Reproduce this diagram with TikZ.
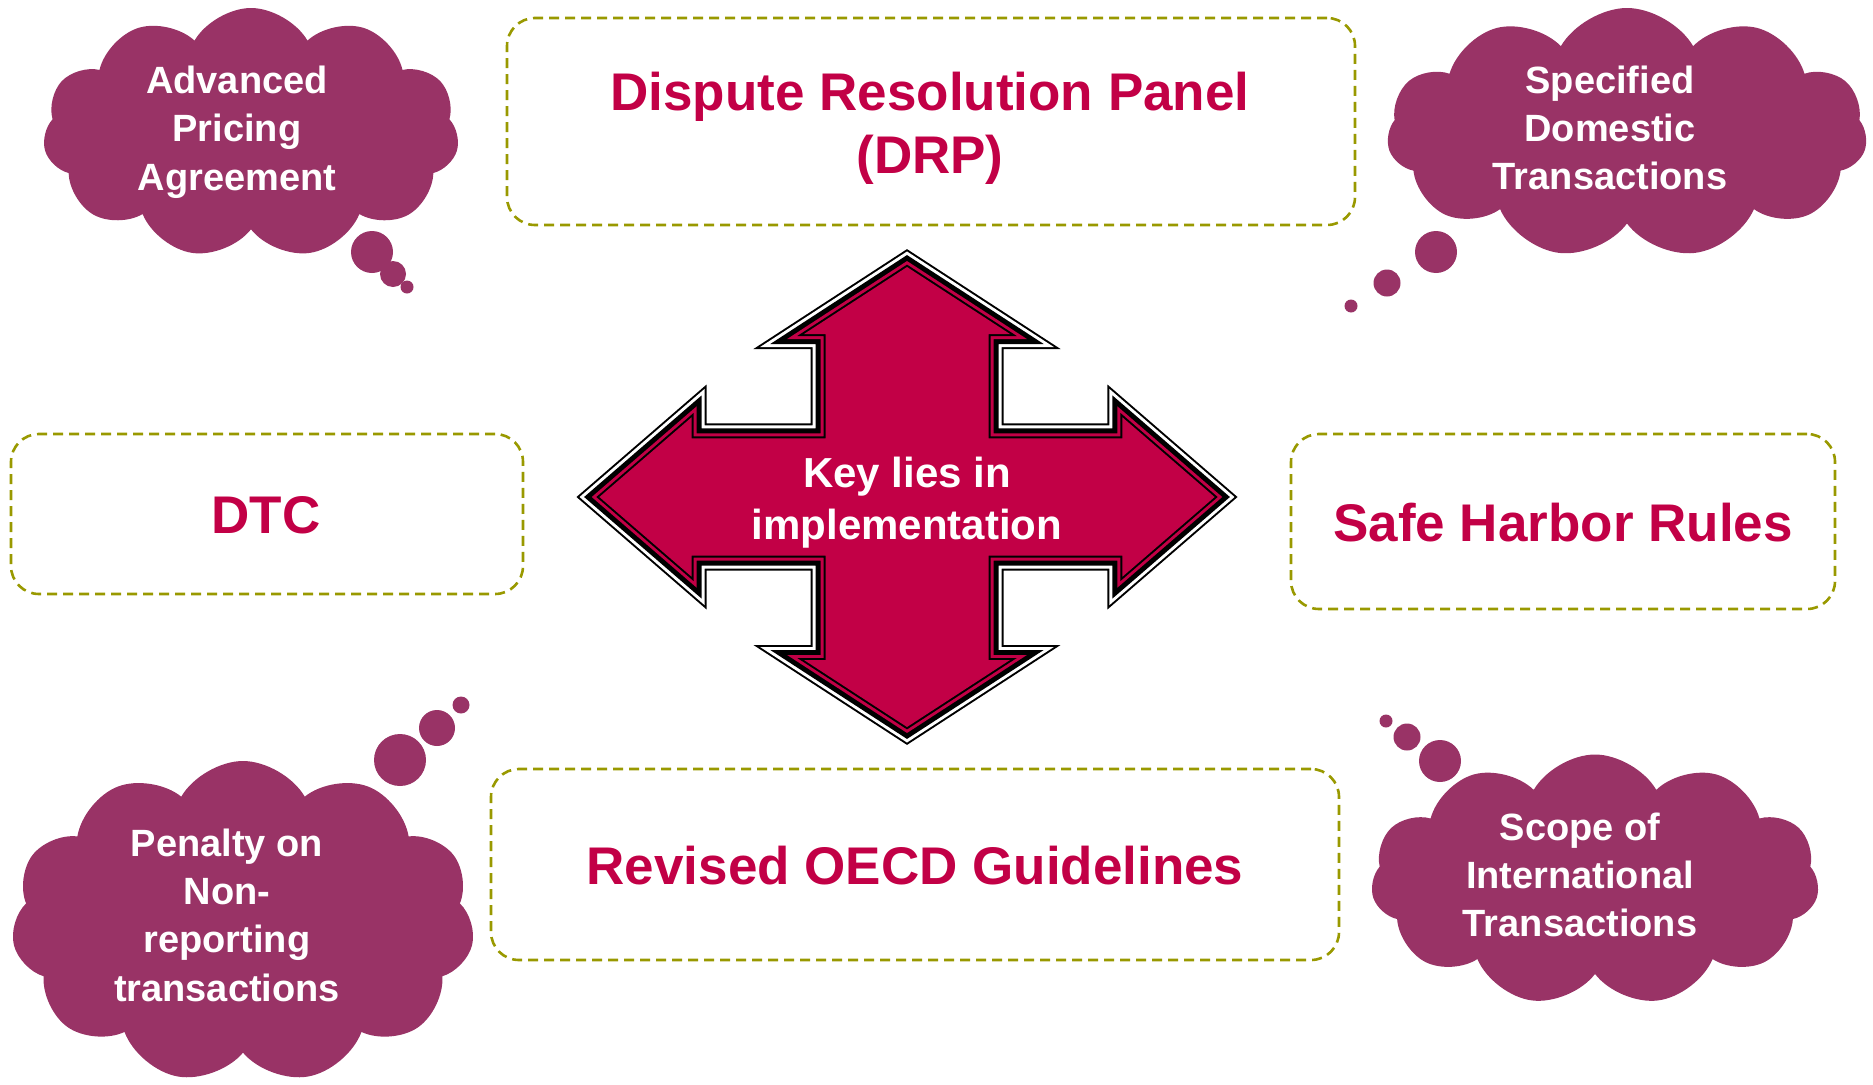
\documentclass[tikz,border=0pt]{standalone}
\usepackage{fontspec}
\setmainfont{Liberation Sans}
\usetikzlibrary{shapes.symbols}
\definecolor{crim}{RGB}{194,0,70}
\definecolor{plum}{RGB}{153,51,102}
\definecolor{olivebd}{RGB}{153,153,0}
\begin{document}
\begin{tikzpicture}[x=1pt,y=-1pt,
  dbox/.style={draw=olivebd, line width=2.6pt, dash pattern=on 10pt off 6pt, rounded corners=28pt, inner sep=0pt},
  boxtext/.style={text=crim, font=\bfseries\fontsize{53}{63}\selectfont, align=center, inner sep=0pt},
  cloudbox/.style={cloud, cloud puffs=11, cloud puff arc=120, cloud ignores aspect, fill=plum, draw=none, inner sep=0pt},
  bub/.style={circle, fill=plum, draw=none, inner sep=0pt},
  cloudtext/.style={text=white, font=\bfseries\fontsize{38}{48.3}\selectfont, align=center, inner sep=0pt},
  keytext/.style={text=white, font=\bfseries\fontsize{42}{52}\selectfont, align=center, inner sep=0pt}
]
\useasboundingbox (0,0) rectangle (1873,1084);

% clouds
\node[cloudbox, minimum width=416pt, minimum height=250pt] (c1) at (251,133) {};
\node[bub, minimum size=42pt] (b1a) at (372,252) {};
\node[bub, minimum size=26pt] (b1b) at (393,274) {};
\node[bub, minimum size=13pt] (b1c) at (407,287) {};
\node[cloudtext] (t1) at (237,132) {Advanced\\Pricing\\Agreement};

\node[cloudbox, minimum width=480pt, minimum height=250pt] (c2) at (1627,133) {};
\node[bub, minimum size=42pt] (b2a) at (1436,252) {};
\node[bub, minimum size=27pt] (b2b) at (1387,283) {};
\node[bub, minimum size=13pt] (b2c) at (1351,306) {};
\node[cloudtext] (t2) at (1610,128) {Specified\\Domestic\\Transactions};

\node[cloudbox, minimum width=463pt, minimum height=322pt] (c3) at (243,922) {};
\node[bub, minimum size=52pt] (b3a) at (400,760) {};
\node[bub, minimum size=36pt] (b3b) at (437,728) {};
\node[bub, minimum size=17pt] (b3c) at (461,705) {};
\node[cloudtext] (t3) at (227,915) {Penalty on\\Non-\\reporting\\transactions};

\node[cloudbox, minimum width=448pt, minimum height=251pt] (c4) at (1595,880) {};
\node[bub, minimum size=42pt] (b4a) at (1440,761) {};
\node[bub, minimum size=27pt] (b4b) at (1407,737) {};
\node[bub, minimum size=13pt] (b4c) at (1386,721) {};
\node[cloudtext] (t4) at (1580,875) {Scope of\\International\\Transactions};

% dashed boxes
\node[dbox, minimum width=848pt, minimum height=207pt] (drp) at (931,121.5) {};
\node[boxtext] (drpt) at (930,128.5) {Dispute Resolution Panel\\(DRP)};
\node[dbox, minimum width=512pt, minimum height=160pt] (dtc) at (267,514) {};
\node[boxtext] (dtct) at (266,515) {DTC};
\node[dbox, minimum width=544pt, minimum height=175pt] (shr) at (1563,521.5) {};
\node[boxtext] (shrt) at (1563,523) {Safe Harbor Rules};
\node[dbox, minimum width=848pt, minimum height=191pt] (oecd) at (915,864.5) {};
\node[boxtext] (oecdt) at (915,866) {Revised OECD Guidelines};

% central four-way arrow
\begin{scope}[shift={(907,497)}]
\foreach \w/\c in {30/black,26/white,20/black,10/crim,4/black}{
\draw[line width=\w pt, draw=\c, miter limit=10]
 (0,-230) -- (103,-163) -- (81.5,-163) -- (81.5,-58.7) -- (215.4,-58.7) -- (215.4,-79.7)
 -- (307.6,0) -- (215.4,79.7) -- (215.4,58.7) -- (81.5,58.7) -- (81.5,163) -- (103,163)
 -- (0,230) -- (-103,163) -- (-81.5,163) -- (-81.5,58.7) -- (-215.4,58.7) -- (-215.4,79.7)
 -- (-307.6,0) -- (-215.4,-79.7) -- (-215.4,-58.7) -- (-81.5,-58.7) -- (-81.5,-163) -- (-103,-163) -- cycle;
}
\fill[crim]
 (0,-230) -- (103,-163) -- (81.5,-163) -- (81.5,-58.7) -- (215.4,-58.7) -- (215.4,-79.7)
 -- (307.6,0) -- (215.4,79.7) -- (215.4,58.7) -- (81.5,58.7) -- (81.5,163) -- (103,163)
 -- (0,230) -- (-103,163) -- (-81.5,163) -- (-81.5,58.7) -- (-215.4,58.7) -- (-215.4,79.7)
 -- (-307.6,0) -- (-215.4,-79.7) -- (-215.4,-58.7) -- (-81.5,-58.7) -- (-81.5,-163) -- (-103,-163) -- cycle;
\node[keytext] (key) at (0,6) {Key lies in\\implementation};
\end{scope}
\end{tikzpicture}
\end{document}
